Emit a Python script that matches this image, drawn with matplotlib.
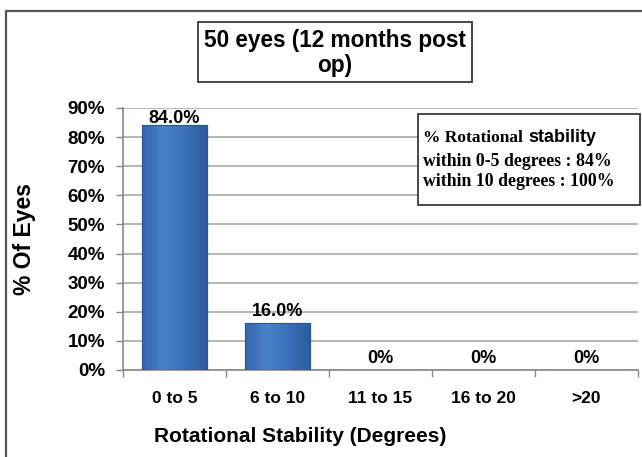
import numpy as np
import matplotlib
matplotlib.use("Agg")
import matplotlib.pyplot as plt
from matplotlib.patches import Rectangle
from matplotlib.lines import Line2D
from matplotlib.ticker import FixedLocator, FuncFormatter
from matplotlib.colors import LinearSegmentedColormap

# data
categories = ["0 to 5", "6 to 10", "11 to 15", "16 to 20", ">20"]
pct_eyes = [84.0, 16.0, 0.0, 0.0, 0.0]
bar_labels = ["84.0%", "16.0%", "0%", "0%", "0%"]
y_ticks = [0, 10, 20, 30, 40, 50, 60, 70, 80, 90]

W, H = 642, 457

def fx(x):
    return x / W

def fy(y):
    return 1 - y / H

plt.rcParams['font.family'] = ['Liberation Sans', 'DejaVu Sans']

fig = plt.figure(figsize=(W / 100, H / 100), dpi=100)
fig.patch.set_facecolor("white")

ax = fig.add_axes([fx(123), fy(370), fx(638) - fx(123), fy(108) - fy(370)])
ax.set_xlim(-0.5, len(categories) - 0.5)
ax.set_ylim(0, 90)

x = np.arange(len(categories))
bars = ax.bar(x, pct_eyes, width=0.63, color="#3C72BA", edgecolor="#2A5896",
              linewidth=0.8, zorder=3)

# fake the excel cylinder-ish shading
grad = LinearSegmentedColormap.from_list("g", ["#3466AC", "#4A82C8", "#3A70B8", "#2C5C9E"])
for b in bars:
    if b.get_height() <= 0:
        continue
    img = np.linspace(0, 1, 64).reshape(1, -1)
    im = ax.imshow(img, cmap=grad, aspect="auto", zorder=3.5,
                   extent=[b.get_x(), b.get_x() + b.get_width(), 0, b.get_height()])
    im.set_clip_path(b)
    ax.add_patch(Rectangle((b.get_x(), 0), b.get_width(), b.get_height(), fill=False,
                           edgecolor="#2A5896", linewidth=0.8, zorder=4))

for b, lab, v in zip(bars, bar_labels, pct_eyes):
    off = 1.5 if v > 80 else 5
    ax.annotate(lab, (b.get_x() + b.get_width() / 2, v), xytext=(0, off),
                textcoords="offset points", ha="center", va="baseline",
                fontsize=13, fontweight="bold", zorder=5)

ax.yaxis.set_major_locator(FixedLocator(y_ticks))
ax.yaxis.set_major_formatter(FuncFormatter(lambda v, p: "%d%%" % v))
ax.grid(axis="y", color="#A8A8A8", linewidth=1.2, zorder=0)
ax.set_axisbelow(True)

ax.set_xticks(x)
ax.set_xticklabels(categories)
ax.xaxis.set_minor_locator(FixedLocator(np.arange(-0.5, len(categories), 1.0)))
ax.tick_params(axis="x", which="major", length=0, pad=15, labelsize=12.5)
ax.tick_params(axis="x", which="minor", length=5, color="#888888", width=1)
ax.tick_params(axis="y", length=5, color="#888888", width=1, pad=8, labelsize=13.5)
for t in ax.get_xticklabels() + ax.get_yticklabels():
    t.set_fontweight("bold")

for s in ["top", "right"]:
    ax.spines[s].set_visible(False)
ax.spines["left"].set_color("#888888")
ax.spines["bottom"].set_color("#888888")
ax.spines["left"].set_linewidth(1.2)
ax.spines["bottom"].set_linewidth(1.2)

# axis titles
fig.text(fx(25), fy(239), "% Of Eyes", rotation=90, ha="center", va="center",
         fontsize=16.5, fontweight="bold")
fig.text(fx(300), fy(437), "Rotational Stability (Degrees)", ha="center", va="center",
         fontsize=15, fontweight="bold")

# title box
fig.add_artist(Rectangle((fx(198), fy(82)), fx(472) - fx(198), fy(22) - fy(82),
                         transform=fig.transFigure, fill=False, edgecolor="#3A3A3A", linewidth=1.3))
fig.text(fx(335), fy(53), "50 eyes (12 months post\nop)", ha="center", va="center",
         fontsize=16.3, fontweight="bold", linespacing=1.15)

# note box
fig.add_artist(Rectangle((fx(418), fy(205)), fx(640) - fx(418), fy(114) - fy(205),
                         transform=fig.transFigure, facecolor="white", edgecolor="#3A3A3A",
                         linewidth=1.3, zorder=6))
serif = ['Liberation Serif', 'DejaVu Serif']
fig.text(fx(423), fy(138), "% Rotational", family=serif, fontsize=12.5, fontweight="bold",
         va="center", zorder=7)
fig.text(fx(528), fy(137), "stability", fontsize=13, fontweight="bold", va="center", zorder=7)
fig.text(fx(423), fy(161), "within 0-5 degrees : 84%", family=serif, fontsize=12.8,
         fontweight="bold", va="center", zorder=7)
fig.text(fx(423), fy(182), "within 10 degrees : 100%", family=serif, fontsize=12.8,
         fontweight="bold", va="center", zorder=7)

# outer frame (only left and top show in the crop)
fig.add_artist(Line2D([fx(6), fx(6), fx(642)], [0, fy(11), fy(11)],
                      transform=fig.transFigure, color="#555555", linewidth=1.6))

fig.savefig("out.png", dpi=100)
